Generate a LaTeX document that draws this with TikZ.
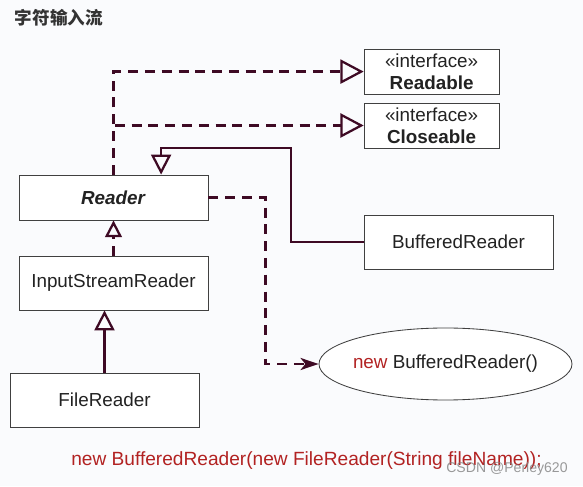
\documentclass[tikz,border=0pt]{standalone}
\usepackage{fontspec}
\setmainfont{Liberation Sans}
\newfontfamily\cjk{Noto Sans CJK SC}
\usetikzlibrary{arrows.meta,shapes.geometric}
\definecolor{bgcol}{RGB}{250,251,253}
\definecolor{linecol}{RGB}{62,10,36}
\definecolor{codered}{RGB}{178,34,34}
\definecolor{boxtext}{RGB}{34,34,34}

\begin{document}
\begin{tikzpicture}[
    box/.style={draw=black!75,line width=0.6pt,fill=white,inner sep=0pt,
      minimum width=4.725cm,font=\fontsize{13.4pt}{15.6pt}\selectfont,
      text=boxtext,align=center},
    ifbox/.style={box,minimum width=3.375cm,minimum height=1.125cm},
    dashline/.style={draw=linecol,line width=1.9pt,dash pattern=on 0.25cm off 0.17cm},
    solidline/.style={draw=linecol,line width=1.9pt},
    realize/.style={-{Triangle[open,length=0.58cm,width=0.6cm,line width=1.6pt]}},
    inherit/.style={-{Triangle[open,length=0.5cm,width=0.5cm,line width=1.6pt]}}
  ]
      \useasboundingbox[fill=bgcol] (0,0) rectangle (14.575,12.15);
      \node[anchor=west,text=black!80,font=\cjk\bfseries\fontsize{12.5pt}{14pt}\selectfont] (title) at (0.25,11.7) {字符输入流};
      \node[ifbox] (readable) at (10.79,10.36) {«interface»\\\textbf{Readable}};
      \node[ifbox] (closeable) at (10.79,9.0125) {«interface»\\\textbf{Closeable}};
      \node[box,minimum height=1.125cm] (reader) at (2.8375,7.2125) {\textbf{\textit{Reader}}};
      \node[box,minimum height=1.35cm] (isr) at (2.8375,5.075) {InputStreamReader};
      \node[box,minimum height=1.35cm] (filereader) at (2.6125,2.15) {FileReader};
      \node[box,minimum height=1.35cm] (buffered) at (11.4625,6.1) {BufferedReader};
      \node[ellipse,draw=black!75,line width=0.6pt,fill=white,inner xsep=-0.4cm,inner ysep=0pt,
        minimum width=6.325cm,minimum height=1.8cm,
        font=\fontsize{13.4pt}{15.6pt}\selectfont,text=boxtext] (newbr) at (11.1375,3.05)
        {\textcolor{codered}{new} BufferedReader()};
      \node[text=codered,font=\fontsize{13.6pt}{15.6pt}\selectfont] (code) at (7.6625,0.625)
        {new BufferedReader(new FileReader(String fileName));};
      \node[text=gray,opacity=0.8,font=\fontsize{10pt}{12pt}\selectfont] (mark) at (12.675,0.425) {CSDN @Perley620};
      \coordinate (bend) at (7.275,8.45);
      \draw[dashline,realize] (reader.north) -- (reader.north |- readable.west) -- (readable.west);
      \draw[dashline,realize] (reader.north) -- (reader.north |- closeable.west) -- (closeable.west);
      \draw[solidline,inherit] (buffered.west) -| (bend) -| ([xshift=1.19cm]reader.north);
      \draw[dashline,-{Stealth[length=0.45cm,width=0.3cm,inset=0.12cm]}] (reader.east) -| ([xshift=-1.325cm]newbr.west) -- (newbr.west);
      \draw[dashline,-{Triangle[open,length=0.42cm,width=0.42cm,line width=1.6pt]}] (isr.north) -- (reader.south);
      \draw[solidline,inherit] (filereader.north) -- (filereader.north |- isr.south);
\end{tikzpicture}
\end{document}
